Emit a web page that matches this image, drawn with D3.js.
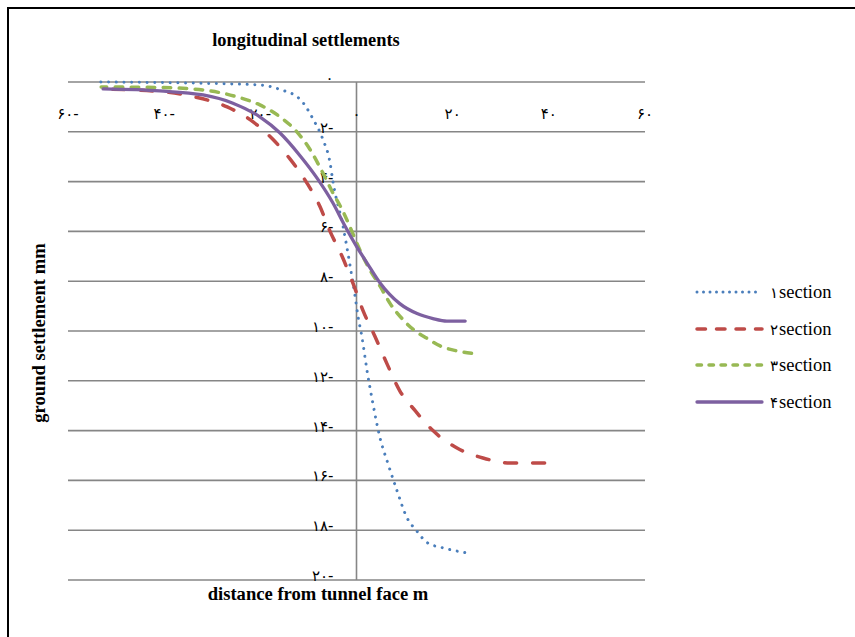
<!DOCTYPE html>
<html>
<head>
<meta charset="utf-8">
<script src="https://cdn.jsdelivr.net/npm/d3@7"></script>
<style>
  html, body { margin: 0; padding: 0; background: #fff; }
  svg { display: block; }
  .lgword { font-family: "Liberation Serif", serif; font-weight: normal; font-style: normal; }
</style>
</head>
<body>
<svg id="chart" width="855" height="637"></svg>
<script>
// ---- data ----
const seriesDigits = ["۱", "۲", "۳", "۴"];
const seriesWord = "section";
const section1X = [-53.3, -32.5, -20, -15.9, -11.7, -9.0, -7.0, -5.5, -4.9, -2.8, -1.4, -0.3, 0.3, 1.1, 2.2, 3.4, 4.9, 6.5, 8.4, 10.5, 12.4, 14.7, 17.8, 22.6];
const section1Y = [0, -0.05, -0.12, -0.3, -0.7, -1.5, -2.3, -3.25, -4.0, -5.8, -7.3, -8.6, -9.4, -10.2, -11.6, -12.9, -14.3, -15.3, -16.4, -17.5, -18.0, -18.5, -18.7, -18.9];
const section2X = [-53.3, -40.9, -33.6, -26.9, -21.5, -17.4, -13.8, -10.3, -7.6, -5.5, -3.0, -0.7, 1.4, 3.8, 6.3, 9.0, 12.2, 15.9, 20.9, 26.3, 31.9, 39.2];
const section2Y = [-0.28, -0.38, -0.6, -1.0, -1.6, -2.3, -3.1, -4.06, -5.0, -6.0, -7.0, -8.1, -9.2, -10.2, -11.3, -12.4, -13.2, -14.0, -14.7, -15.1, -15.3, -15.3];
const section3X = [-53.1, -40.9, -31.9, -24.8, -20.1, -15.9, -12.4, -9.7, -7.0, -4.9, -2.8, -1.4, 0.7, 2.8, 4.9, 7.0, 9.7, 12.2, 14.7, 17.4, 20.9, 24.0];
const section3Y = [-0.2, -0.22, -0.32, -0.6, -0.92, -1.4, -2.0, -2.7, -3.65, -4.46, -5.2, -5.8, -6.75, -7.55, -8.2, -8.9, -9.55, -10.0, -10.3, -10.6, -10.8, -10.9];
const section4X = [-52.7, -40.9, -31.9, -25.7, -20.1, -15.9, -11.7, -8.2, -4.9, -2.4, 0.1, 2.2, 4.9, 9.0, 12.6, 15.9, 18.8, 22.6];
const section4Y = [-0.28, -0.36, -0.52, -0.85, -1.4, -2.05, -2.97, -3.86, -4.86, -5.78, -6.63, -7.27, -8.07, -8.9, -9.3, -9.5, -9.6, -9.6];
const xTickValues = [-60, -40, -20, 0, 20, 40, 60];
const xTickLabels = ["۶۰-", "۴۰-", "۲۰-", "۰", "۲۰", "۴۰", "۶۰"];
const yTickValues = [0, -2, -4, -6, -8, -10, -12, -14, -16, -18, -20];
const yTickLabels = ["۰", "۲-", "۴-", "۶-", "۸-", "۱۰-", "۱۲-", "۱۴-", "۱۶-", "۱۸-", "۲۰-"];

const titleText = "longitudinal settlements";
const xTitleText = "distance from tunnel face m";
const yTitleText = "ground settlement mm";

// ---- styles ----
const styles = [
  { color: "#4A7EBB", width: 3, dash: [0.01, 7.69], legendDash: "0,6.5" },
  { color: "#BE4B48", width: 3.5, dash: [12, 16], legendDash: "8.5,11" },
  { color: "#98B954", width: 3.5, dash: [7.5, 8.5], legendDash: "4.5,7.5" },
  { color: "#7D60A0", width: 3.3, dash: null, legendDash: null }
];
const seriesData = [
  section1X.map((x, i) => [x, section1Y[i]]),
  section2X.map((x, i) => [x, section2Y[i]]),
  section3X.map((x, i) => [x, section3Y[i]]),
  section4X.map((x, i) => [x, section4Y[i]])
];

const svg = d3.select("#chart");
const serif = "'Liberation Serif', 'Times New Roman', serif";
const digitFont = "'DejaVu Sans', sans-serif";

const x = d3.scaleLinear().domain([-60, 60]).range([68, 645]);
const y = d3.scaleLinear().domain([0, -20]).range([82, 580]);

// border
svg.append("path").attr("d", "M8,640 L8,8 L860,8").attr("fill", "none")
  .attr("stroke", "#000").attr("stroke-width", 2);

// gridlines
svg.append("g").selectAll("line").data(yTickValues).join("line")
  .attr("x1", x(-60)).attr("x2", x(60))
  .attr("y1", d => y(d)).attr("y2", d => y(d))
  .attr("stroke", "#868686").attr("stroke-width", 1.6);

// vertical axis at x=0
svg.append("line").attr("x1", x(0)).attr("x2", x(0)).attr("y1", y(0)).attr("y2", y(-20))
  .attr("stroke", "#868686").attr("stroke-width", 1.6);

// y tick labels
svg.append("g").selectAll("text").data(yTickValues).join("text")
  .attr("x", x(0) - 23).attr("y", d => y(d) + 1)
  .attr("text-anchor", "end")
  .attr("font-family", digitFont).attr("font-size", 15).attr("fill", "#000")
  .text((d, i) => yTickLabels[i]);

// x tick labels
svg.append("g").selectAll("text").data(xTickValues).join("text")
  .attr("x", d => x(d)).attr("y", y(0) + 37)
  .attr("text-anchor", "middle")
  .attr("font-family", digitFont).attr("font-size", 15).attr("fill", "#000")
  .text((d, i) => xTickLabels[i]);

// series lines
const line = d3.line().x(d => x(d[0])).y(d => y(d[1])).curve(d3.curveMonotoneX);
seriesData.forEach((data, i) => {
  const s = styles[i];
  const p = svg.append("path").datum(data)
    .attr("d", line)
    .attr("fill", "none")
    .attr("stroke", s.color)
    .attr("stroke-width", s.width)
    .attr("stroke-linecap", "round")
    .attr("stroke-linejoin", "round");
  if (s.dash) {
    const period = s.dash[0] + s.dash[1];
    const L = p.node().getTotalLength() - 0.5;
    const off = s.dash[0] - (L % period);
    p.attr("stroke-dasharray", s.dash.join(",")).attr("stroke-dashoffset", off);
  }
});

// titles
svg.append("text").attr("x", 306).attr("y", 46).attr("text-anchor", "middle")
  .attr("font-family", serif).attr("font-weight", "bold").attr("font-size", 18.4)
  .text(titleText);
svg.append("text").attr("x", 318).attr("y", 600).attr("text-anchor", "middle")
  .attr("font-family", serif).attr("font-weight", "bold").attr("font-size", 18.6)
  .text(xTitleText);
svg.append("text").attr("transform", "translate(45,333) rotate(-90)").attr("text-anchor", "middle")
  .attr("font-family", serif).attr("font-weight", "bold").attr("font-size", 18.6)
  .text(yTitleText);

// legend
const legendY = [292, 329, 365, 402];
const lg = svg.append("g");
seriesDigits.forEach((dg, i) => {
  const s = styles[i];
  lg.append("line").attr("x1", 697).attr("x2", 762).attr("y1", legendY[i]).attr("y2", legendY[i])
    .attr("stroke", s.color).attr("stroke-width", s.width)
    .attr("stroke-linecap", "round")
    .attr("stroke-dasharray", s.legendDash);
  const d = lg.append("text").attr("x", 770).attr("y", legendY[i] + 6).attr("fill", "#000")
    .attr("font-family", digitFont).attr("font-size", 15).text(dg);
  const w = d.node().getComputedTextLength();
  lg.append("text").attr("class", "lgword").attr("x", 770 + w + 1).attr("y", legendY[i] + 6)
    .attr("fill", "#000").attr("font-size", 18.5).text(seriesWord);
});
</script>
</body>
</html>
